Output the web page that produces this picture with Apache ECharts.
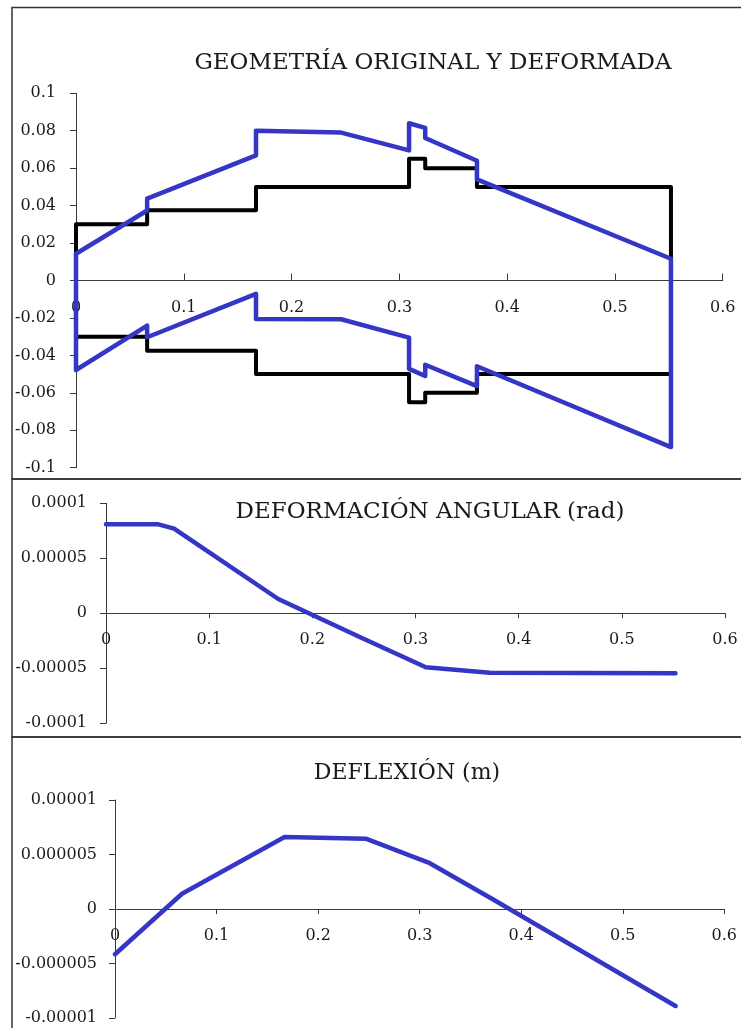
<!DOCTYPE html>
<html>
<head>
<meta charset="utf-8">
<title>Eje: geometría, deformación angular y deflexión</title>
<script src="https://cdn.jsdelivr.net/npm/echarts@6/dist/echarts.min.js"></script>
<style>
  html, body { margin: 0; padding: 0; background: #ffffff; }
  #chart { width: 741px; height: 1028px; }
</style>
</head>
<body>
<div id="chart"></div>
<script>
// Tick labels
const xTickLabels = ['0', '0.1', '0.2', '0.3', '0.4', '0.5', '0.6'];
const geoYTickLabels = ['-0.1', '-0.08', '-0.06', '-0.04', '-0.02', '0', '0.02', '0.04', '0.06', '0.08', '0.1'];
const slopeYTickLabels = ['-0.0001', '-0.00005', '0', '0.00005', '0.0001'];
const deflYTickLabels = ['-0.00001', '-0.000005', '0', '0.000005', '0.00001'];

// Titles
const titleGeo = 'GEOMETRÍA ORIGINAL Y DEFORMADA';
const titleSlope = 'DEFORMACIÓN ANGULAR (rad)';
const titleDefl = 'DEFLEXIÓN (m)';

// Original shaft outline (closed contour, m)
const originalX = [0, 0.066, 0.066, 0.167, 0.167, 0.309, 0.309, 0.324, 0.324, 0.372, 0.372, 0.552,
                   0.552, 0.372, 0.372, 0.324, 0.324, 0.309, 0.309, 0.167, 0.167, 0.066, 0.066, 0, 0];
const originalY = [0.03, 0.03, 0.0375, 0.0375, 0.05, 0.05, 0.065, 0.065, 0.06, 0.06, 0.05, 0.05,
                   -0.05, -0.05, -0.06, -0.06, -0.065, -0.065, -0.05, -0.05, -0.0375, -0.0375, -0.03, -0.03, 0.03];

// Deformed shaft outline (closed contour, exaggerated)
const deformedX = [0, 0.066, 0.066, 0.167, 0.167, 0.246, 0.309, 0.309, 0.324, 0.324, 0.372, 0.372, 0.552,
                   0.552, 0.372, 0.372, 0.324, 0.324, 0.309, 0.309, 0.246, 0.167, 0.167, 0.066, 0.066, 0, 0];
const deformedY = [0.0143, 0.0374, 0.0437, 0.0668, 0.080, 0.079, 0.0695, 0.084, 0.0815, 0.0761, 0.064, 0.054, 0.0116,
                   -0.089, -0.0458, -0.0564, -0.045, -0.051, -0.0472, -0.0305, -0.0207, -0.0205, -0.0071, -0.0303, -0.0241, -0.0478, 0.0143];

// Angular deformation (rad)
const slopeX = [0, 0.05, 0.066, 0.167, 0.247, 0.31, 0.372, 0.552];
const slopeY = [8.1e-5, 8.1e-5, 7.7e-5, 1.3e-5, -2.2e-5, -4.9e-5, -5.4e-5, -5.45e-5];

// Deflection (m)
const deflX = [0, 0.066, 0.167, 0.247, 0.31, 0.372, 0.552];
const deflY = [-4.15e-6, 1.4e-6, 6.6e-6, 6.45e-6, 4.2e-6, 0.9e-6, -8.9e-6];

const zip = (xs, ys) => xs.map((x, i) => [x, ys[i]]);

const FONT = '"DejaVu Serif", "Liberation Serif", serif';
const AXIS_COLOR = '#3a3a3a';
const BLUE = '#3535c6';

// Plot areas (px); each y range is symmetric, so the zero line sits mid-height
const grids = [
  { left: 76, right: 18.3, top: 93.3, bottom: 1028 - 467.7 },
  { left: 106, right: 16, top: 503.3, bottom: 1028 - 723.3 },
  { left: 115, right: 16.7, top: 800, bottom: 1028 - 1018 }
];
const halfHeight = g => (1028 - g.top - g.bottom) / 2;

function labelFrom(labels, min, step) {
  return function (v) {
    const i = Math.round((v - min) / step);
    return labels[i] !== undefined ? labels[i] : '';
  };
}

// Horizontal axis drawn across the middle of its plot (at y = 0)
function xAxisFor(gridIndex, tickInside, tickLen) {
  return {
    type: 'value', gridIndex: gridIndex, min: 0, max: 0.6, interval: 0.1,
    position: 'bottom', offset: -halfHeight(grids[gridIndex]),
    axisLine: { onZero: false, lineStyle: { color: AXIS_COLOR, width: 1 } },
    axisTick: { show: true, inside: tickInside, length: tickLen, lineStyle: { color: AXIS_COLOR } },
    axisLabel: { margin: 19, color: '#1a1a1a', fontFamily: FONT, fontSize: 16,
                 formatter: labelFrom(xTickLabels, 0, 0.1) },
    splitLine: { show: false }
  };
}

function yAxisFor(gridIndex, min, max, step, labels, margin) {
  return {
    type: 'value', gridIndex: gridIndex, min: min, max: max, interval: step,
    axisLine: { show: true, lineStyle: { color: AXIS_COLOR, width: 1 } },
    axisTick: { show: true, inside: false, length: 6, lineStyle: { color: AXIS_COLOR } },
    axisLabel: { margin: margin, color: '#1a1a1a', fontFamily: FONT, fontSize: 16,
                 formatter: labelFrom(labels, min, step) },
    splitLine: { show: false }
  };
}

function lineSeries(xi, yi, data, color, width, z) {
  return {
    type: 'line', xAxisIndex: xi, yAxisIndex: yi, data: data,
    showSymbol: false, symbol: 'none', clip: false, silent: true, z: z,
    lineStyle: { color: color, width: width, join: 'round', cap: 'round' },
    animation: false
  };
}

function panelBorder(y, h) {
  return {
    type: 'rect', silent: true, z: 0,
    shape: { x: 12, y: y, width: 740, height: h },
    style: { fill: 'none', stroke: '#333333', lineWidth: 1.5 }
  };
}

function titleText(text, cx, cy, size) {
  return {
    type: 'text', silent: true, z: 5,
    style: { text: text, x: cx, y: cy, align: 'center', verticalAlign: 'middle',
             font: size + 'px ' + FONT, fill: '#1a1a1a' }
  };
}

const chart = echarts.init(document.getElementById('chart'), null, { renderer: 'canvas' });

chart.setOption({
  backgroundColor: '#ffffff',
  animation: false,
  grid: grids,
  xAxis: [
    xAxisFor(0, true, 7),
    xAxisFor(1, false, 5),
    xAxisFor(2, false, 5)
  ],
  yAxis: [
    yAxisFor(0, -0.1, 0.1, 0.02, geoYTickLabels, 20),
    yAxisFor(1, -0.0001, 0.0001, 0.00005, slopeYTickLabels, 19),
    yAxisFor(2, -0.00001, 0.00001, 0.000005, deflYTickLabels, 18)
  ],
  series: [
    lineSeries(0, 0, zip(originalX, originalY), '#000000', 4, 2),
    lineSeries(0, 0, zip(deformedX, deformedY), BLUE, 4.5, 3),
    lineSeries(1, 1, zip(slopeX, slopeY), BLUE, 4.5, 3),
    lineSeries(2, 2, zip(deflX, deflY), BLUE, 4.5, 3)
  ],
  graphic: [
    panelBorder(7.5, 471.5),
    panelBorder(479, 258),
    panelBorder(737, 300),
    titleText(titleGeo, 433, 63, 23),
    titleText(titleSlope, 430, 512, 23),
    titleText(titleDefl, 407, 773, 22)
  ]
});
</script>
</body>
</html>
